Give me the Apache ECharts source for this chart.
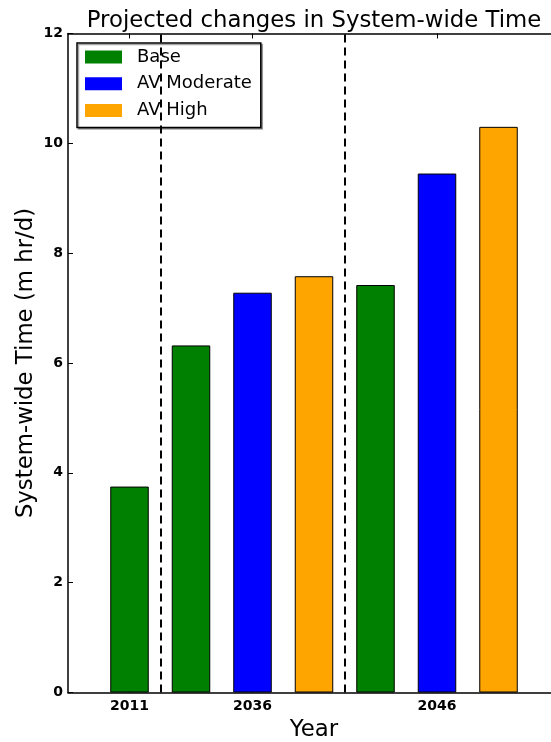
<!DOCTYPE html>
<html>
<head>
<meta charset="utf-8">
<script src="https://cdn.jsdelivr.net/npm/echarts@6/dist/echarts.min.js"></script>
<style>
  html, body { margin: 0; padding: 0; background: #ffffff; }
  #chart { width: 551px; height: 742px; }
</style>
</head>
<body>
<div id="chart"></div>
<script>
// Projected system-wide time per scenario and year (m hr/d)
const years = ['2011', '2036', '2046'];
const scenarios = ['Base', 'AV Moderate', 'AV High'];
const baseValues = [3.75, 6.32, 7.42];
const avModerateValues = [null, 7.28, 9.45];
const avHighValues = [null, 7.58, 10.30];
const scenarioColors = ['#008000', '#0000ff', '#ffa500'];
const yTicks = [0, 2, 4, 6, 8, 10, 12];

const scenarioValues = [baseValues, avModerateValues, avHighValues];
const FONT = 'DejaVu Sans';

// Lay the bars out in slots: an empty slot on each side, bars grouped by year.
const slotOwner = [];          // per bar slot: {si, yi}
const labelSlots = {};         // slot index -> year label
const separators = [];         // x positions of the dashed group separators
let slot = 1;
years.forEach((year, yi) => {
  const group = [];
  scenarios.forEach((s, si) => {
    const v = scenarioValues[si][yi];
    if (v !== null && v !== undefined) {
      slotOwner[slot] = { si, yi };
      group.push(slot);
      slot++;
    }
  });
  labelSlots[group[Math.floor((group.length - 1) / 2)]] = year;
  if (yi < years.length - 1) separators.push(group[group.length - 1] + 0.5);
});
const slotCount = slot + 1;
const slotNames = Array.from({ length: slotCount }, (_, i) => 's' + i);

const seriesData = scenarios.map((s, si) =>
  slotNames.map((_, i) => (slotOwner[i] && slotOwner[i].si === si)
    ? scenarioValues[si][slotOwner[i].yi] : null));

const showAt = (index) => labelSlots[index] !== undefined;

const chart = echarts.init(document.getElementById('chart'), null, { renderer: 'canvas' });

const barSeries = scenarios.map((name, si) => ({
  name,
  type: 'bar',
  xAxisIndex: 0,
  yAxisIndex: 0,
  data: seriesData[si],
  barWidth: 38.5,
  barGap: '-100%',
  itemStyle: { color: scenarioColors[si], borderColor: '#000000', borderWidth: 1 },
  emphasis: { disabled: true },
  animation: false
}));

chart.setOption({
  animation: false,
  title: {
    text: 'Projected changes in System-wide Time',
    left: 314,
    top: 10,
    padding: 0,
    textAlign: 'center',
    textStyle: { fontFamily: FONT, fontSize: 22.8, fontWeight: 'normal', color: '#000000' }
  },
  legend: {
    data: scenarios,
    orient: 'vertical',
    left: 77,
    top: 43,
    padding: [5, 9, 8, 8],
    itemGap: 8.8,
    itemWidth: 37,
    itemHeight: 13,
    icon: 'rect',
    borderColor: '#000000',
    borderWidth: 1.5,
    backgroundColor: '#ffffff',
    shadowColor: 'rgba(0,0,0,0.35)',
    shadowOffsetX: 1.5,
    shadowOffsetY: 1.5,
    itemStyle: { borderWidth: 0 },
    textStyle: { fontFamily: FONT, fontSize: 18, color: '#000000', lineHeight: 18, padding: [0, 0, 0, 10] }
  },
  grid: {
    left: 68, top: 33.5, width: 492, height: 659,
    containLabel: false,
    outerBoundsMode: 'none'
  },
  xAxis: [
    {
      type: 'category',
      position: 'bottom',
      data: slotNames,
      boundaryGap: false,
      name: 'Year',
      nameLocation: 'middle',
      nameGap: 26,
      nameMoveOverlap: false,
      nameTextStyle: { fontFamily: FONT, fontSize: 22.8, color: '#000000', verticalAlign: 'top' },
      axisLine: { show: true, lineStyle: { color: '#000000', width: 1.5 } },
      axisTick: { show: true, inside: true, length: 5, interval: showAt, lineStyle: { color: '#000000', width: 1 } },
      axisLabel: {
        interval: showAt,
        formatter: (v, i) => labelSlots[i] || '',
        margin: 7,
        fontFamily: FONT, fontSize: 14, fontWeight: 'bold', color: '#000000'
      },
      splitLine: { show: false }
    },
    {
      type: 'category',
      position: 'top',
      data: slotNames,
      boundaryGap: false,
      axisLine: { show: true, lineStyle: { color: '#000000', width: 1.5 } },
      axisTick: { show: true, inside: true, length: 5, interval: showAt, lineStyle: { color: '#000000', width: 1 } },
      axisLabel: { show: false },
      splitLine: { show: false }
    },
    {
      type: 'value',
      min: 0,
      max: slotCount - 1,
      show: false
    }
  ],
  yAxis: {
    type: 'value',
    min: yTicks[0],
    max: yTicks[yTicks.length - 1],
    interval: yTicks[1] - yTicks[0],
    name: 'System-wide Time (m hr/d)',
    nameLocation: 'middle',
    nameGap: 30,
    nameMoveOverlap: false,
    nameTextStyle: { fontFamily: FONT, fontSize: 22.8, color: '#000000' },
    axisLine: { show: true, lineStyle: { color: '#000000', width: 1.5 } },
    axisTick: { show: true, inside: true, length: 5, lineStyle: { color: '#000000', width: 1 } },
    axisLabel: { margin: 5, fontFamily: FONT, fontSize: 14, fontWeight: 'bold', color: '#000000' },
    splitLine: { show: false }
  },
  series: barSeries.concat([{
    name: 'separators',
    type: 'line',
    xAxisIndex: 2,
    yAxisIndex: 0,
    data: [],
    silent: true,
    markLine: {
      silent: true,
      symbol: 'none',
      label: { show: false },
      lineStyle: { color: '#000000', width: 2, type: [8, 5] },
      data: separators.map(x => ({ xAxis: x }))
    }
  }])
});
</script>
</body>
</html>
